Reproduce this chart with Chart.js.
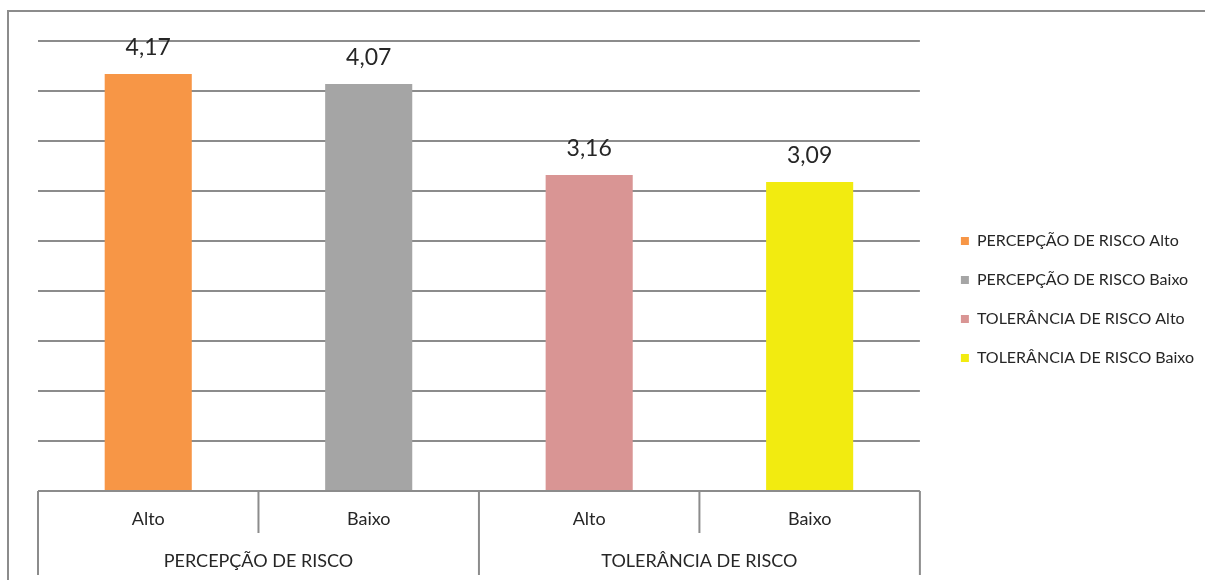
<!DOCTYPE html>
<html>
<head>
<meta charset="utf-8">
<script src="https://cdn.jsdelivr.net/npm/chart.js@4.4.1/dist/chart.umd.min.js"></script>
<style>
  html, body { margin: 0; padding: 0; background: #fff; }
  #wrap { width: 1205px; height: 580px; }
</style>
</head>
<body>
<div id="wrap"><canvas id="mycanvas" width="1205" height="580"></canvas></div>
<script>
// data
var categories = ["Alto", "Baixo", "Alto", "Baixo"];
var catGroup = [0, 0, 1, 1];
var groups = ["PERCEPÇÃO DE RISCO", "TOLERÂNCIA DE RISCO"];
var seriesNames = ["PERCEPÇÃO DE RISCO Alto", "PERCEPÇÃO DE RISCO Baixo", "TOLERÂNCIA DE RISCO Alto", "TOLERÂNCIA DE RISCO Baixo"];
var values = [4.17, 4.07, 3.16, 3.09];
var colors = ["#F79646", "#A5A5A5", "#D99594", "#F2EB10"];

Chart.defaults.font.family = "Lato";

var datasets = seriesNames.map(function(name, i){
	return {
		label: name,
		data: categories.map(function(c, j){ return j === i ? values[i] : null; }),
		backgroundColor: colors[i],
		borderWidth: 0,
		skipNull: true,
		categoryPercentage: 1,
		barPercentage: 0.395
	};
});

// outer frame
var framePlugin = {
	id: "frame",
	beforeDraw: function(chart){
		var ctx = chart.ctx;
		ctx.save();
		ctx.strokeStyle = "#8c8c8c";
		ctx.lineWidth = 2;
		ctx.beginPath();
		ctx.moveTo(8, 600);
		ctx.lineTo(8, 11);
		ctx.lineTo(1230, 11);
		ctx.stroke();
		ctx.restore();
	}
};

// value labels over the bars
var valueLabels = {
	id: "valueLabels",
	afterDatasetsDraw: function(chart){
		var ctx = chart.ctx;
		ctx.save();
		ctx.font = "23px Lato";
		ctx.fillStyle = "#262626";
		ctx.textAlign = "center";
		ctx.textBaseline = "alphabetic";
		chart.data.datasets.forEach(function(ds, i){
			var meta = chart.getDatasetMeta(i);
			meta.data.forEach(function(el, j){
				var v = ds.data[j];
				if (v === null) return;
				ctx.fillText(v.toFixed(2).replace(".", ","), el.x, el.y - 19);
			});
		});
		ctx.restore();
	}
};

// category separators and group labels under the axis
var groupAxis = {
	id: "groupAxis",
	afterDraw: function(chart){
		var ctx = chart.ctx;
		var x = chart.scales.x;
		var area = chart.chartArea;
		var bottom = area.bottom;
		var xs = categories.map(function(c, i){ return x.getPixelForValue(i); });
		ctx.save();
		ctx.strokeStyle = "#8c8c8c";
		ctx.lineWidth = 2;
		for (var k = 0; k <= categories.length; k++) {
			var px;
			if (k === 0) px = area.left;
			else if (k === categories.length) px = area.right;
			else px = (xs[k - 1] + xs[k]) / 2;
			var isGroupEdge = (k === 0 || k === categories.length || catGroup[k - 1] !== catGroup[k]);
			ctx.beginPath();
			ctx.moveTo(px, bottom);
			ctx.lineTo(px, bottom + (isGroupEdge ? 84 : 42));
			ctx.stroke();
		}
		ctx.font = "18px Lato";
		ctx.fillStyle = "#262626";
		ctx.textAlign = "center";
		ctx.textBaseline = "middle";
		groups.forEach(function(g, gi){
			var sum = 0, n = 0;
			xs.forEach(function(p, i){ if (catGroup[i] === gi) { sum += p; n++; } });
			ctx.fillText(g, sum / n, bottom + 70);
		});
		ctx.restore();
	}
};

var ctx = document.getElementById("mycanvas");

var BarGraph = new Chart(ctx, {
	type: "bar",
	data: {
		labels: categories,
		datasets: datasets
	},
	options: {
		responsive: false,
		animation: false,
		layout: {
			padding: { top: 19, left: 38, right: 1, bottom: 0 }
		},
		plugins: {
			legend: {
				position: "right",
				labels: {
					boxWidth: 8,
					boxHeight: 8,
					padding: 23,
					color: "#262626",
					font: { size: 16 }
				}
			},
			tooltip: { enabled: false }
		},
		scales: {
			x: {
				position: "bottom",
				grid: { display: false, drawTicks: false },
				border: { display: false },
				ticks: {
					color: "#262626",
					font: { size: 18 },
					padding: 17,
					maxRotation: 0
				},
				afterFit: function(s){ s.height = 89; }
			},
			xTop: {
				type: "category",
				position: "top",
				grid: { display: false, drawTicks: false },
				border: { display: false },
				ticks: { display: false },
				afterFit: function(s){ s.height = 22; }
			},
			y: {
				min: 0,
				max: 4.5,
				ticks: { stepSize: 0.5, display: false },
				grid: { color: "#8c8c8c", lineWidth: 2, drawTicks: false },
				border: { display: false },
				afterFit: function(s){ s.width = 0; }
			},
			yRight: {
				type: "linear",
				position: "right",
				display: false,
				afterFit: function(s){ s.width = 18; }
			}
		}
	},
	plugins: [framePlugin, valueLabels, groupAxis]
});
</script>
</body>
</html>
